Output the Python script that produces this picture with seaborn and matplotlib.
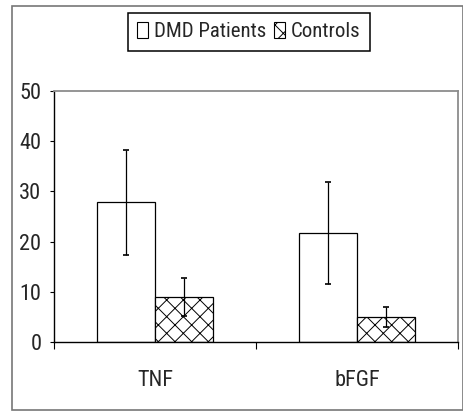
import pandas as pd
import matplotlib
matplotlib.use('Agg')
import matplotlib.pyplot as plt
import seaborn as sns
from matplotlib.patches import Rectangle, Patch

# values
cytokines = ['TNF', 'bFGF']
groups = ['DMD Patients', 'Controls']
dmd_means = [27.8, 21.7]
dmd_sd = [10.4, 10.1]
ctrl_means = [9.0, 5.0]
ctrl_sd = [3.8, 2.0]

sns.set_theme(style='white')
plt.rcParams['font.family'] = ['Roboto Condensed', 'DejaVu Sans']
plt.rcParams['hatch.linewidth'] = 0.7

df = pd.DataFrame({
    'cytokine': cytokines * 2,
    'group': [groups[0]] * 2 + [groups[1]] * 2,
    'value': dmd_means + ctrl_means,
    'sd': dmd_sd + ctrl_sd,
})

fig = plt.figure(figsize=(4.64, 4.18), dpi=100)
ax = fig.add_axes([54 / 464, 76 / 418, 404 / 464, 251 / 418])

sns.barplot(data=df, x='cytokine', y='value', hue='group', order=cytokines,
            hue_order=groups, palette=['white', 'white'], width=0.575,
            errorbar=None, edgecolor='black', linewidth=0.9, legend=False, ax=ax)

# hatch the controls bars and add the error bars at each bar centre
n = len(cytokines)
for i, bar in enumerate(ax.patches[:2 * n]):
    if i >= n:
        bar.set_hatch('xx')
    row = df.iloc[i]
    cx = bar.get_x() + bar.get_width() / 2
    ax.errorbar(cx, row['value'], yerr=row['sd'], fmt='none', ecolor='black',
                elinewidth=0.9, capsize=2.0, capthick=1.2, zorder=5)

ax.set_ylim(0, 50)
ax.set_xlim(-0.5, n - 0.5)
ax.set_yticks(range(0, 51, 10))
ax.set_xlabel('')
ax.set_ylabel('')
ax.tick_params(axis='y', which='major', direction='out', length=3, width=0.8,
               color='black', labelsize=16, pad=6, left=True)
ax.tick_params(axis='x', which='major', length=0, labelsize=16, pad=20)
ax.set_xticks([i - 0.5 for i in range(n + 1)], minor=True)
ax.tick_params(axis='x', which='minor', direction='out', length=5, width=0.8,
               color='black', bottom=True)

for s in ['left', 'bottom']:
    ax.spines[s].set_color('black')
    ax.spines[s].set_linewidth(1.0)
for s in ['top', 'right']:
    ax.spines[s].set_visible(True)
    ax.spines[s].set_color('#8c8c8c')
    ax.spines[s].set_linewidth(1.3)

handles = [Patch(facecolor='white', edgecolor='black', linewidth=0.8),
           Patch(facecolor='white', edgecolor='black', linewidth=0.8, hatch='xx')]
leg = fig.legend(handles, groups, loc='upper center', bbox_to_anchor=(249 / 464, 1 - 13 / 418),
                 ncol=2, fontsize=15, frameon=True, fancybox=False, framealpha=1,
                 edgecolor='black', handlelength=0.5, handleheight=0.75, handletextpad=0.3,
                 columnspacing=0.4, borderpad=0.45, borderaxespad=0)
leg.get_frame().set_linewidth(1.1)

# outer chart frame
fig.patches.append(Rectangle((12 / 464, 8 / 418), 451 / 464, 404 / 418, transform=fig.transFigure,
                             fill=False, edgecolor='#777777', linewidth=1.2))

fig.savefig('out.png', dpi=100)
